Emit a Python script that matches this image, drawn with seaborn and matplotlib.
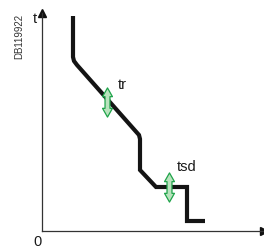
import numpy as np
import pandas as pd
import seaborn as sns
import matplotlib.pyplot as plt
from matplotlib.path import Path

# Trip curve (current, time) in arbitrary units
current = [31, 31, 32, 35, 97, 98, 98, 114, 145, 145, 163]
time = [215, 174, 170, 166, 96, 92, 61, 44, 44, 10, 10]

# Adjustment arrows (on the curve) and their labels
adj_current = [65, 127]
adj_time = [129, 44]
adj_labels = ["tr", "tsd"]
label_current = [76, 135]
label_time = [146, 64]

sns.set_theme(style="white")
plt.rcParams["font.family"] = ["Liberation Sans", "DejaVu Sans"]

fig = plt.figure(figsize=(2.64, 2.5), dpi=100)
ax = fig.add_axes([42 / 264, 19 / 250, 222 / 264, 218 / 250])

df = pd.DataFrame({"I": current, "t": time})
sns.lineplot(data=df, x="I", y="t", sort=False, estimator=None, ax=ax,
             color="#141414", linewidth=3.0)
for l in ax.lines:
    l.set_solid_joinstyle("miter")
    l.set_solid_capstyle("butt")

# double arrow marker shape
hw, sw, hl = 0.17, 0.085, 0.3
verts = [(0, 0.5), (hw, 0.5 - hl), (sw, 0.5 - hl), (sw, -0.5 + hl), (hw, -0.5 + hl),
         (0, -0.5), (-hw, -0.5 + hl), (-sw, -0.5 + hl), (-sw, 0.5 - hl), (-hw, 0.5 - hl),
         (0, 0.5)]
codes = [Path.MOVETO] + [Path.LINETO] * 9 + [Path.CLOSEPOLY]
dbl_arrow = Path(verts, codes)
ax.plot(adj_current, adj_time, linestyle="none", marker=dbl_arrow, markersize=21,
        markerfacecolor="#b9e3bd", markeredgecolor="#1fa34a", markeredgewidth=0.9,
        zorder=5)

for txt, x, y in zip(adj_labels, label_current, label_time):
    ax.text(x, y, txt, fontsize=10.5, color="#1a1a1a", ha="left", va="center")

ax.set_xlim(0, 222)
ax.set_ylim(0, 218)
ax.set_xticks([])
ax.set_yticks([])
ax.set_xlabel("")
ax.set_ylabel("")
for s in ["top", "right"]:
    ax.spines[s].set_visible(False)
for s in ["left", "bottom"]:
    ax.spines[s].set_color("#333333")
    ax.spines[s].set_linewidth(0.9)

# axis arrow heads
ax.plot([1], [0], marker=">", markersize=6, color="#111111",
        transform=ax.transAxes, clip_on=False)
ax.plot([0], [1], marker="^", markersize=6, color="#111111",
        transform=ax.transAxes, clip_on=False)

ax.text(-7, 212, "t", fontsize=10.5, color="#1a1a1a", ha="center", va="center")
ax.text(-4, -11, "0", fontsize=10.5, color="#1a1a1a", ha="center", va="center")
ax.text(-23, 195, "DB119922", fontsize=7, color="#333333", rotation=90,
        ha="center", va="center")

fig.savefig("out.png", dpi=100)
